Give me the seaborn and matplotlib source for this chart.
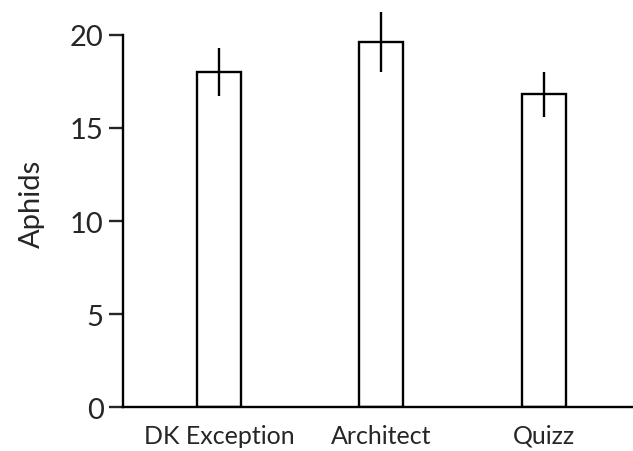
import pandas as pd
import matplotlib
matplotlib.use("Agg")
import matplotlib.pyplot as plt
import seaborn as sns

# values
varieties = ["DK Exception", "Architect", "Quizz"]
aphids = [18.0, 19.6, 16.8]
err = [1.3, 1.6, 1.2]

sns.set_style("white")
plt.rcParams['font.family'] = ['Lato', 'DejaVu Sans']

df = pd.DataFrame({"variety": varieties, "aphids": aphids})

fig = plt.figure(figsize=(6.33, 4.52), dpi=100)
ax = fig.add_axes([0.1943, 0.0967, 0.8057, 0.9033])

sns.barplot(data=df, x="variety", y="aphids", color="white", edgecolor="black",
            linewidth=1.7, width=0.27, errorbar=None, ax=ax)
ax.errorbar(range(len(varieties)), aphids, yerr=err, fmt="none",
            ecolor="black", elinewidth=1.7, capsize=0, clip_on=False)

ax.set_xlim(-0.59, 2.55)
ax.set_ylim(0, 21.92)
ax.set_yticks([0, 5, 10, 15, 20])
ax.spines['left'].set_bounds(0, 20)
for s in ['top', 'right']:
    ax.spines[s].set_visible(False)
for s in ['left', 'bottom']:
    ax.spines[s].set_linewidth(1.7)
    ax.spines[s].set_color("black")

ax.tick_params(axis='y', direction='out', length=10, width=1.7, labelsize=21, pad=4, left=True)
ax.tick_params(axis='x', length=0, labelsize=18, pad=12)
ax.set_xlabel("")
ax.set_ylabel("Aphids", fontsize=21, labelpad=18)

fig.savefig("out.png", dpi=100)
